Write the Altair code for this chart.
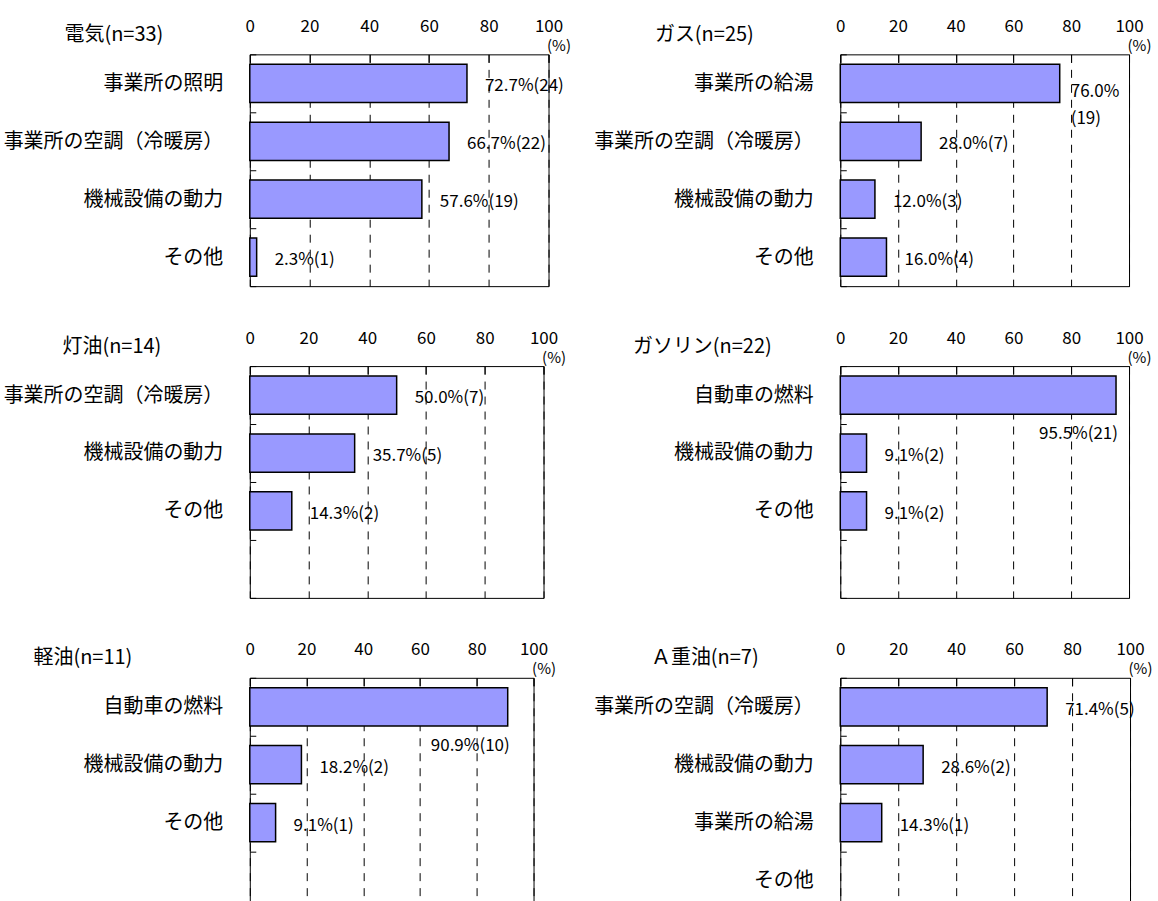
import altair as alt
import pandas as pd

FONT = "Noto Sans CJK JP"
BAR_FILL = "#9999FF"

# Fuel types and number of respondents for each
fuels = ["電気", "ガス", "灯油", "ガソリン", "軽油", "Ａ重油"]
respondents = [33, 25, 14, 22, 11, 7]

# Uses of each fuel (top to bottom), share of respondents (%) and counts
uses_elec = ["事業所の照明", "事業所の空調（冷暖房）", "機械設備の動力", "その他"]
pct_elec = [72.7, 66.7, 57.6, 2.3]
cnt_elec = [24, 22, 19, 1]

uses_gas = ["事業所の給湯", "事業所の空調（冷暖房）", "機械設備の動力", "その他"]
pct_gas = [76.0, 28.0, 12.0, 16.0]
cnt_gas = [19, 7, 3, 4]

uses_kero = ["事業所の空調（冷暖房）", "機械設備の動力", "その他"]
pct_kero = [50.0, 35.7, 14.3]
cnt_kero = [7, 5, 2]

uses_petrol = ["自動車の燃料", "機械設備の動力", "その他"]
pct_petrol = [95.5, 9.1, 9.1]
cnt_petrol = [21, 2, 2]

uses_diesel = ["自動車の燃料", "機械設備の動力", "その他"]
pct_diesel = [90.9, 18.2, 9.1]
cnt_diesel = [10, 2, 1]

uses_heavy = ["事業所の空調（冷暖房）", "機械設備の動力", "事業所の給湯", "その他"]
pct_heavy = [71.4, 28.6, 14.3, 0.0]
cnt_heavy = [5, 2, 1, 0]

tick_values = [0, 20, 40, 60, 80, 100]

# Panel geometry
SLOTS = 4
PANEL_H = 232
panel_widths = [299, 289, 294, 289, 284, 290]
title_offsets = [-192, -192, -194, -214, -223, -196]


def panel(fuel, n, uses, pcts, cnts, width, title_x):
    slots = uses + [""] * (SLOTS - len(uses))
    rows = []
    for u, p, c in zip(uses, pcts, cnts):
        if p >= 90:
            place, text = "below", f"{p:.1f}%({c})"
        elif p >= 75:
            place, text = "wrap", f"{p:.1f}%\n({c})"
        else:
            place, text = "inline", f"{p:.1f}%({c})"
        rows.append(dict(use=u, pct=p, cnt=c, label=text, place=place))
    df = pd.DataFrame(rows)

    y = alt.Y(
        "use:N",
        sort=slots,
        scale=alt.Scale(domain=slots, paddingInner=0, paddingOuter=0),
        axis=alt.Axis(
            orient="left", offset=-6, tickSize=6, tickBand="extent",
            tickColor="black", domain=False, grid=False,
            labelFont=FONT, labelFontSize=20, labelColor="black",
            labelPadding=27, labelLimit=400,
            minExtent=255, maxExtent=255,
            title=f"{fuel}(n={n})", titleAngle=0, titleX=title_x, titleY=-20,
            titleAlign="left", titleBaseline="middle", titleFont=FONT,
            titleFontSize=20, titleFontWeight="normal", titleColor="black",
        ),
    )
    x = alt.X(
        "pct:Q",
        scale=alt.Scale(domain=[0, 100], nice=False),
        axis=alt.Axis(
            orient="top", values=tick_values, format="d", offset=-8, tickSize=8,
            tickColor="black", domain=False,
            grid=True, gridColor="black", gridDash=[8, 7], gridWidth=1, gridOpacity=1,
            labelFont=FONT, labelFontSize=17, labelColor="black",
            labelPadding=28, labelBaseline="middle", labelFlush=False,
            minExtent=56, maxExtent=56,
            title="(%)", titleX=width + 10, titleY=-17, titleAlign="center",
            titleBaseline="middle", titleFont=FONT, titleFontSize=15,
            titleFontWeight="normal", titleColor="black",
        ),
    )
    base = alt.Chart(df).encode(x=x, y=y)

    bars = base.transform_filter("datum.pct > 0").mark_bar(
        fill=BAR_FILL, stroke="black", strokeWidth=1.5, height={"band": 0.66}
    )
    txt = dict(font=FONT, fontSize=17, color="black", baseline="middle")
    inline = base.transform_filter("datum.place == 'inline' && datum.pct > 0").mark_text(
        align="left", dx=18, dy=3, **txt
    ).encode(text="label:N")
    wrap = base.transform_filter("datum.place == 'wrap'").mark_text(
        align="left", dx=11, dy=9, lineBreak="\n", lineHeight=27, **txt
    ).encode(text="label:N")
    below = base.transform_filter("datum.place == 'below'").mark_text(
        align="right", dx=2, dy=39, **txt
    ).encode(text="label:N")

    return alt.layer(bars, inline, wrap, below).properties(width=width, height=PANEL_H)


series = [
    (uses_elec, pct_elec, cnt_elec),
    (uses_gas, pct_gas, cnt_gas),
    (uses_kero, pct_kero, cnt_kero),
    (uses_petrol, pct_petrol, cnt_petrol),
    (uses_diesel, pct_diesel, cnt_diesel),
    (uses_heavy, pct_heavy, cnt_heavy),
]

panels = [
    panel(f, n, u, p, c, w, t)
    for f, n, (u, p, c), w, t in zip(fuels, respondents, series, panel_widths, title_offsets)
]

chart = (
    alt.concat(*panels, columns=2, spacing={"row": 30, "column": 19})
    .properties(padding={"left": 0, "top": 5, "right": 5, "bottom": 5})
    .configure_view(stroke="black", strokeWidth=1)
)

chart.save("out.html", embed_options={"renderer": "svg", "actions": False})
